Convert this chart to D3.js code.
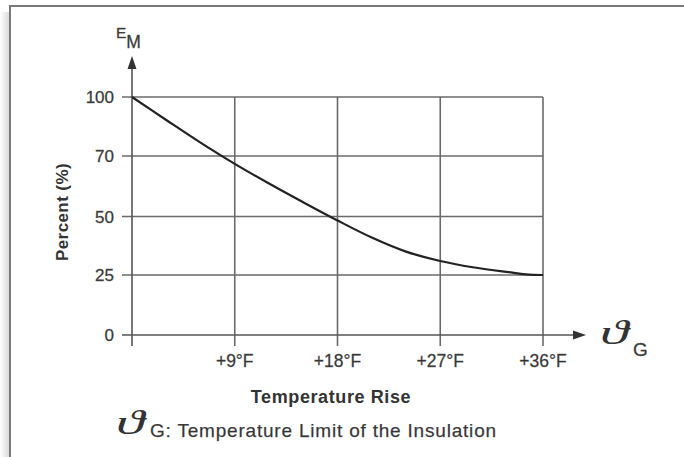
<!DOCTYPE html>
<html>
<head>
<meta charset="utf-8">
<script src="https://cdn.jsdelivr.net/npm/d3@7"></script>
<style>
  html, body { margin: 0; padding: 0; background: #fff; }
  svg { display: block; font-family: "Liberation Sans", Arial, Helvetica, sans-serif; }
</style>
</head>
<body>
<svg id="chart" width="684" height="457"></svg>
<script>
// ---- data ----
const tempRise = [0, 3, 6, 9, 12, 15, 18, 21, 24, 27, 30, 33, 34.5, 36];          // °F
const percentEM = [100, 88.3, 76.8, 67.4, 60.9, 54.7, 48.3, 41.0, 35.0, 31.0, 28.2, 26.2, 25.3, 25];
const xTickValues = [9, 18, 27, 36];
const xTickLabels = ["+9°F", "+18°F", "+27°F", "+36°F"];
const yTickValues = [0, 25, 50, 70, 100];
const yTickLabels = ["0", "25", "50", "70", "100"];

const svg = d3.select("#chart");

// frame + shadow
const defs = svg.append("defs");
const grad = defs.append("linearGradient").attr("id", "shade").attr("x1", 0).attr("x2", 1);
grad.append("stop").attr("offset", 0).attr("stop-color", "#fff");
grad.append("stop").attr("offset", 1).attr("stop-color", "#dadada");
svg.append("rect").attr("x", 0).attr("y", 12).attr("width", 9).attr("height", 445).attr("fill", "url(#shade)");
svg.append("path").attr("d", "M10,457 V6 H684").attr("fill", "none").attr("stroke", "#7a7a7a").attr("stroke-width", 2);

// scales (the reference's value axis is evenly spaced between uneven ticks)
const x = d3.scaleLinear().domain([0, 36]).range([132, 543]);
const y = d3.scaleLinear().domain(yTickValues).range([335, 275, 216.5, 156, 97]);

const gridColor = "#6a6a6a";

// horizontal grid lines (except 0 which is the axis)
svg.append("g").selectAll("line").data(yTickValues.filter(d => d !== 0)).join("line")
  .attr("x1", x(0) - 10).attr("x2", x(36))
  .attr("y1", d => y(d)).attr("y2", d => y(d))
  .attr("stroke", gridColor).attr("stroke-width", 1.6);

// vertical grid lines
svg.append("g").selectAll("line").data(xTickValues).join("line")
  .attr("x1", d => x(d)).attr("x2", d => x(d))
  .attr("y1", y(100)).attr("y2", y(0) + 11)
  .attr("stroke", gridColor).attr("stroke-width", 1.6);

// x axis with arrow
svg.append("line").attr("x1", x(0) - 10).attr("x2", 578).attr("y1", y(0)).attr("y2", y(0))
  .attr("stroke", "#555").attr("stroke-width", 1.6);
svg.append("path").attr("d", `M573,${y(0) - 4.5} L586,${y(0)} L573,${y(0) + 4.5} Z`).attr("fill", "#333");

// y axis with arrow
svg.append("line").attr("x1", x(0)).attr("x2", x(0)).attr("y1", y(0) + 11).attr("y2", 64)
  .attr("stroke", "#555").attr("stroke-width", 1.6);
svg.append("path").attr("d", `M${x(0) - 4.5},69 L${x(0)},56 L${x(0) + 4.5},69 Z`).attr("fill", "#333");

// y tick labels
svg.append("g").selectAll("text").data(yTickValues).join("text")
  .attr("x", 114).attr("y", d => y(d) + 6)
  .attr("text-anchor", "end").attr("font-size", 17).attr("fill", "#333")
  .attr("stroke", "#555").attr("stroke-width", 0.3)
  .text((d, i) => yTickLabels[i]);

// x tick labels
svg.append("g").selectAll("text").data(xTickValues).join("text")
  .attr("x", d => x(d)).attr("y", 367)
  .attr("text-anchor", "middle").attr("font-size", 17.5).attr("fill", "#333")
  .attr("stroke", "#555").attr("stroke-width", 0.3)
  .text((d, i) => xTickLabels[i]);

// curve
const line = d3.line().x(d => x(d[0])).y(d => y(d[1])).curve(d3.curveCatmullRom.alpha(0.5));
svg.append("path").datum(tempRise.map((t, i) => [t, percentEM[i]]))
  .attr("d", line).attr("fill", "none").attr("stroke", "#222").attr("stroke-width", 2.2);

// E_M label
const em = svg.append("text").attr("x", 116).attr("y", 38).attr("fill", "#333")
  .attr("stroke", "#555").attr("stroke-width", 0.3).attr("font-size", 15.5);
em.append("tspan").text("E");
em.append("tspan").attr("dy", 10).attr("font-size", 17.5).text("M");

// y axis title
svg.append("text").attr("transform", "translate(68,212) rotate(-90)")
  .attr("text-anchor", "middle").attr("font-size", 17).attr("font-weight", "bold")
  .attr("letter-spacing", 0.4).attr("fill", "#333").text("Percent (%)");

// x axis title
svg.append("text").attr("x", 331).attr("y", 403).attr("text-anchor", "middle")
  .attr("font-size", 18).attr("font-weight", "bold").attr("letter-spacing", 0.6)
  .attr("fill", "#333").text("Temperature Rise");

// right symbol
svg.append("text").attr("transform", "translate(600,344) scale(1.75,1)")
  .attr("font-size", 33).attr("font-family", "Liberation Serif").attr("font-style", "italic")
  .attr("fill", "#333").text("ϑ");
svg.append("text").attr("x", 633).attr("y", 356).attr("font-size", 19)
  .attr("fill", "#333").attr("stroke", "#555").attr("stroke-width", 0.3).text("G");

// bottom footnote
svg.append("text").attr("transform", "translate(116,434) scale(1.75,1)")
  .attr("font-size", 33).attr("font-family", "Liberation Serif").attr("font-style", "italic")
  .attr("fill", "#333").text("ϑ");
svg.append("text").attr("x", 150).attr("y", 437).attr("font-size", 19).attr("letter-spacing", 0.8)
  .attr("fill", "#333").attr("stroke", "#555").attr("stroke-width", 0.25)
  .text("G: Temperature Limit of the Insulation");
</script>
</body>
</html>
